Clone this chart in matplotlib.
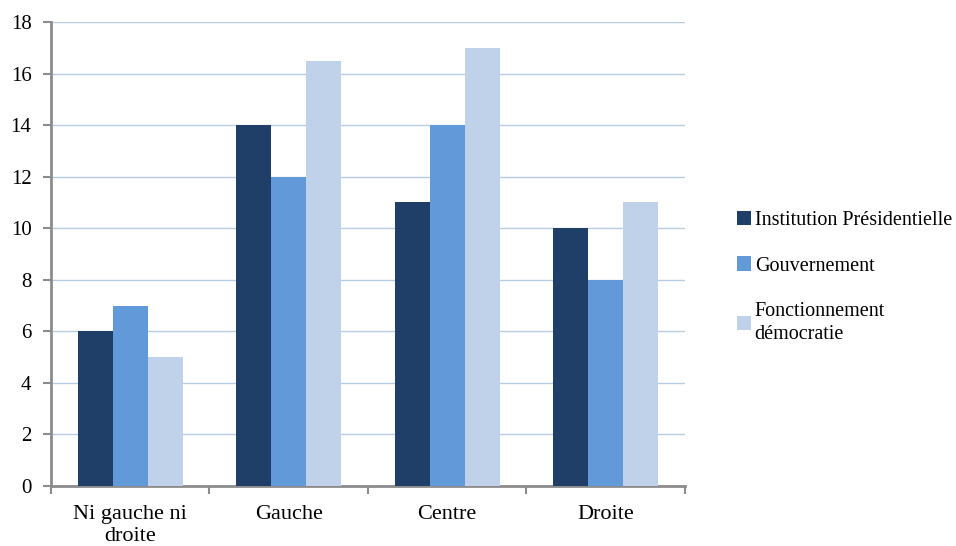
import numpy as np
import matplotlib.pyplot as plt

categories = ["Ni gauche ni\ndroite", "Gauche", "Centre", "Droite"]
series_names = ["Institution Présidentielle", "Gouvernement", "Fonctionnement\ndémocratie"]
institution = [6, 14, 11, 10]
gouvernement = [7, 12, 14, 8]
fonctionnement = [5, 16.5, 17, 11]
colors = ["#1F3F68", "#6199D9", "#C0D2E9"]

plt.rcParams['font.family'] = ['Liberation Serif', 'DejaVu Serif']

fig = plt.figure(figsize=(9.56, 5.46), dpi=100)
ax = fig.add_axes([0.0533, 0.1099, 0.6632, 0.8498])

x = np.arange(len(categories))
w = 0.221
for i, vals in enumerate([institution, gouvernement, fonctionnement]):
    ax.bar(x + (i - 1) * w, vals, w, color=colors[i], label=series_names[i], zorder=3)

ax.set_xlim(-0.5, 3.5)
ax.set_ylim(0, 18)
ax.set_yticks(range(0, 19, 2))
ax.yaxis.grid(True, color="#B8CCE4", linewidth=1, zorder=0)

for s in ["top", "right"]:
    ax.spines[s].set_visible(False)
for s in ["left", "bottom"]:
    ax.spines[s].set_color("#8C8C8C")
    ax.spines[s].set_linewidth(2)

ax.set_xticks([-0.5, 0.5, 1.5, 2.5, 3.5])
ax.set_xticklabels([])
ax.set_xticks(x, minor=True)
ax.set_xticklabels(categories, minor=True, fontsize=16, linespacing=1.2)
ax.tick_params(axis="x", which="major", length=6, width=1.5, color="#8C8C8C")
ax.tick_params(axis="x", which="minor", length=0, pad=14)
ax.tick_params(axis="y", length=6, width=1.5, color="#8C8C8C", labelsize=15, pad=8)

leg = fig.legend(loc="upper left", bbox_to_anchor=(0.762, 0.628), frameon=False,
                 fontsize=14.5, handlelength=0.7, handleheight=0.7, handletextpad=0.2,
                 labelspacing=1.3, borderaxespad=0)
for t in leg.get_texts():
    t.set_linespacing(1.3)

fig.savefig("out.png", dpi=100)
